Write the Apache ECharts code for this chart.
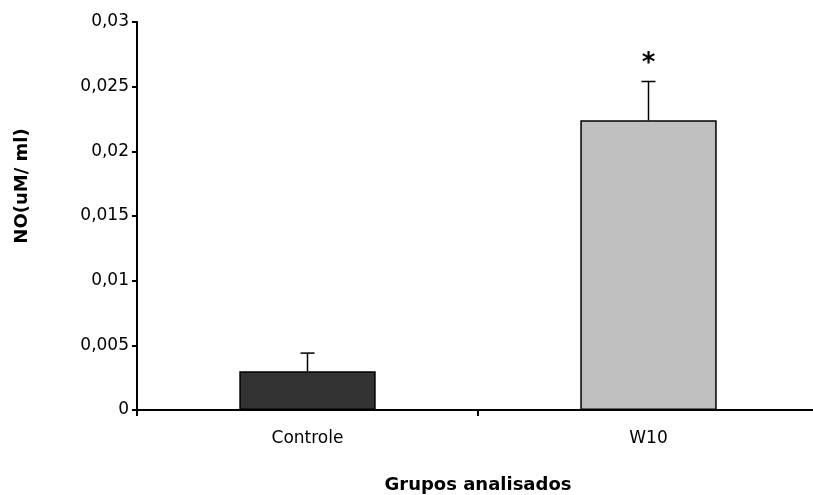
<!DOCTYPE html>
<html><head><meta charset="utf-8">
<script src="https://cdn.jsdelivr.net/npm/echarts@6/dist/echarts.min.js"></script>
<style>html,body{margin:0;padding:0;background:#fff}#c{width:813px;height:495px}</style>
</head><body><div id="c"></div>
<script>
var categories = ['Controle', 'W10'];
var means = [0.003, 0.0224];
var errors = [0.0014, 0.0030];
var signif = ['', '*'];
var barColors = ['#333333', '#c0c0c0'];
var yTitle = 'NO(uM/ ml)';
var xTitle = 'Grupos analisados';

var FONT = '"DejaVu Sans", Arial, sans-serif';
var chart = echarts.init(document.getElementById('c'));
chart.setOption({
  animation: false,
  grid: {left: 137, right: -6, top: 22, bottom: 85, containLabel: false, outerBoundsMode: 'none'},
  graphic: [{
    type: 'text', x: 22, y: 186, rotation: Math.PI / 2,
    style: {text: yTitle, font: 'bold 18px ' + FONT, fill: '#000', textAlign: 'center', textVerticalAlign: 'middle'}
  }],
  xAxis: {
    type: 'category', data: categories,
    name: xTitle, nameLocation: 'middle', nameGap: 66,
    nameTextStyle: {fontFamily: FONT, fontSize: 18, fontWeight: 'bold', color: '#000'},
    axisLine: {lineStyle: {color: '#000', width: 2}},
    axisTick: {show: true, length: 6, lineStyle: {color: '#000', width: 2}},
    axisLabel: {fontFamily: FONT, fontSize: 17, color: '#000', margin: 20}
  },
  yAxis: {
    type: 'value', min: 0, max: 0.03, interval: 0.005,
    splitLine: {show: false},
    axisLine: {show: true, lineStyle: {color: '#000', width: 2}},
    axisTick: {show: true, length: 5, lineStyle: {color: '#000', width: 2}},
    axisLabel: {fontFamily: FONT, fontSize: 17, color: '#000', margin: 8,
      formatter: function (v) { return String(+v.toFixed(3)).replace('.', ','); }}
  },
  series: [{
    type: 'bar', barWidth: '40%',
    data: means.map(function (v, i) {
      return {value: v, itemStyle: {color: barColors[i], borderColor: '#000', borderWidth: 1.5}};
    })
  }, {
    type: 'custom',
    data: means.map(function (v, i) { return [i, v, v + errors[i]]; }),
    renderItem: function (params, api) {
      var base = api.coord([api.value(0), api.value(1)]);
      var top = api.coord([api.value(0), api.value(2)]);
      var i = params.dataIndex;
      var children = [
        {type: 'line', shape: {x1: base[0], y1: base[1], x2: top[0], y2: top[1]}, style: {stroke: '#000', lineWidth: 1.5}},
        {type: 'line', shape: {x1: top[0] - 7, y1: top[1], x2: top[0] + 7, y2: top[1]}, style: {stroke: '#000', lineWidth: 1.5}}
      ];
      if (signif[i]) {
        children.push({type: 'text', style: {text: signif[i], x: top[0], y: top[1] - 4, textAlign: 'center', textVerticalAlign: 'bottom',
          font: 'bold 26px ' + FONT, fill: '#000'}});
      }
      return {type: 'group', children: children};
    },
    z: 3
  }]
});
</script></body></html>
